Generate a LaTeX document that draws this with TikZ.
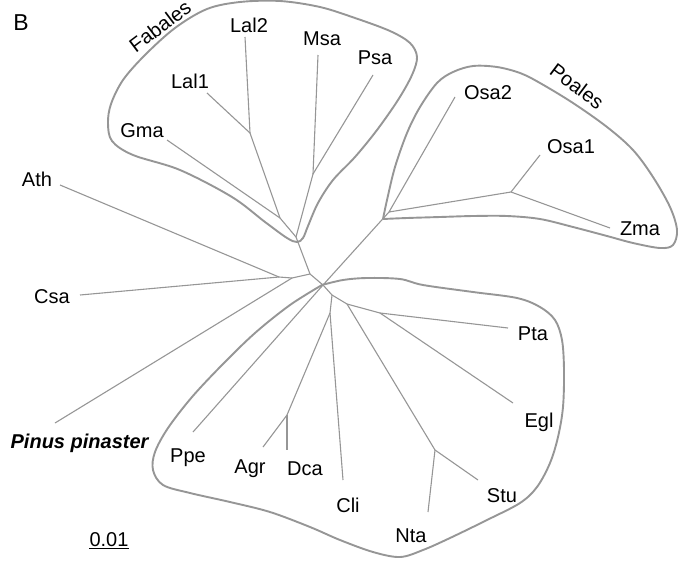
\documentclass[tikz,border=0pt]{standalone}
\usepackage{fontspec}
\setmainfont{Liberation Sans}
\definecolor{treegray}{RGB}{150,150,150}
\definecolor{cladegray}{RGB}{150,150,150}

\begin{document}
\begin{tikzpicture}[x=1pt, y=-1pt, font=\fontsize{20}{24}\selectfont,
  branch/.style={treegray, line width=1.1pt},
  clade/.style={cladegray, line width=1.9pt, line join=round},
  taxon/.style={inner sep=0pt, anchor=base}]

  \useasboundingbox (0,0) rectangle (679,560);

  % Inner nodes of the tree
  \coordinate (n1) at (279,277);
  \coordinate (n2) at (292,278);
  \coordinate (n3) at (310,274);
  \coordinate (c)  at (323,285);
  \coordinate (f0) at (296,237);
  \coordinate (f1) at (280,218);
  \coordinate (f2) at (250,133);
  \coordinate (f3) at (313,174);
  \coordinate (p0) at (389,212);
  \coordinate (p1) at (511,192);
  \coordinate (d1) at (332,295);
  \coordinate (d2) at (347,304);
  \coordinate (d3) at (330,313);
  \coordinate (d4) at (380,313);
  \coordinate (d5) at (435,450);
  \coordinate (d6) at (287,415);

  % Tips of the branches
  \coordinate (tLal2) at (245,37);
  \coordinate (tLal1) at (207,93);
  \coordinate (tGma)  at (167,140);
  \coordinate (tMsa)  at (318,55);
  \coordinate (tPsa)  at (373,75);
  \coordinate (tAth)  at (60,185);
  \coordinate (tCsa)  at (80,295);
  \coordinate (tPin)  at (55,423);
  \coordinate (tPpe)  at (193,432);
  \coordinate (tAgr)  at (263,447);
  \coordinate (tDca)  at (287,450);
  \coordinate (tCli)  at (343,480);
  \coordinate (tNta)  at (428,512);
  \coordinate (tStu)  at (478,480);
  \coordinate (tPta)  at (508,328);
  \coordinate (tEgl)  at (513,403);
  \coordinate (tOsa2) at (455,97);
  \coordinate (tOsa1) at (540,155);
  \coordinate (tZma)  at (610,228);

  % Branches
  \foreach \a/\b in {n1/tAth, n1/tCsa, n1/n2, n2/tPin, n2/n3, n3/f0, n3/c,
      f0/f1, f1/tGma, f1/f2, f2/tLal1, f2/tLal2, f0/f3, f3/tMsa, f3/tPsa,
      c/p0, p0/tOsa2, p0/p1, p1/tOsa1, p1/tZma,
      c/tPpe, c/d1, d1/d2, d1/d3, d3/tCli, d3/d6, d6/tAgr, d6/tDca,
      d2/d4, d4/tPta, d4/tEgl, d2/d5, d5/tNta, d5/tStu}
    \draw[branch] (\a) -- (\b);

  % Fabales outline
  \draw[clade] plot[smooth cycle, tension=0.55] coordinates {
    (297,242) (287,238) (265,222) (232,197) (180,170) (133,155) (112,141)
    (108,123) (111,104) (123,80) (145,55) (175,28) (207,9) (240,2)
    (280,1) (320,7) (355,18) (390,31) (410,43) (417,57) (412,75)
    (398,100) (377,130) (355,157) (333,180) (318,203) (308,226) (303,238)};

  % Poales outline
  \draw[clade] plot[smooth, tension=0.55] coordinates {
    (383,219) (387,200) (395,167) (407,133) (420,107) (437,83) (453,72)
    (473,66) (497,67) (520,73) (540,83) (573,103) (607,127) (633,150)
    (653,177) (670,207) (677,230) (673,245) (660,248) (633,243)
    (607,236) (573,227) (540,219) (507,216) (473,216) (440,217) (407,218)
    (383,219)};

  % Outline of the lower clade
  \draw[clade] plot[smooth, tension=0.55] coordinates {
    (322,285) (343,280) (367,278) (400,279) (423,285) (473,292) (517,298)
    (540,307) (555,320) (562,340) (564,370) (563,407) (558,437) (550,463)
    (537,487) (520,503) (487,520) (450,538) (423,550) (400,557) (373,552)
    (340,540) (310,527) (270,512) (230,502) (190,493) (163,485) (153,470)
    (155,452) (168,428) (192,397) (222,365) (255,333) (290,305) (322,285)};

  % Labels
  \node[taxon, font=\fontsize{23}{26}\selectfont] (panel) at (21,30) {B};
  \node[rotate=37] (fabales) at (160,26) {Fabales};
  \node[rotate=-37] (poales) at (577,86) {Poales};
  \node[taxon] (Lal2) at (249,32) {Lal2};
  \node[taxon] (Msa)  at (322,45) {Msa};
  \node[taxon] (Psa)  at (375,64) {Psa};
  \node[taxon] (Lal1) at (190,88) {Lal1};
  \node[taxon] (Gma)  at (142,137) {Gma};
  \node[taxon] (Ath)  at (37,186) {Ath};
  \node[taxon] (Csa)  at (52,303) {Csa};
  \node[taxon] (Pin)  at (80,448) {\textbf{\textit{Pinus pinaster}}};
  \node[taxon] (Ppe)  at (188,462) {Ppe};
  \node[taxon] (Agr)  at (250,473) {Agr};
  \node[taxon] (Dca)  at (305,475) {Dca};
  \node[taxon] (Cli)  at (348,512) {Cli};
  \node[taxon] (Nta)  at (411,542) {Nta};
  \node[taxon] (Stu)  at (502,502) {Stu};
  \node[taxon] (Egl)  at (539,427) {Egl};
  \node[taxon] (Pta)  at (533,340) {Pta};
  \node[taxon] (Osa2) at (488,99) {Osa2};
  \node[taxon] (Osa1) at (571,153) {Osa1};
  \node[taxon] (Zma)  at (640,235) {Zma};

  % Scale bar
  \node[taxon] (scale) at (109,546) {0.01};
  \draw[line width=0.9pt] ([yshift=-2.5pt]scale.base west) -- ([yshift=-2.5pt]scale.base east);

\end{tikzpicture}
\end{document}
